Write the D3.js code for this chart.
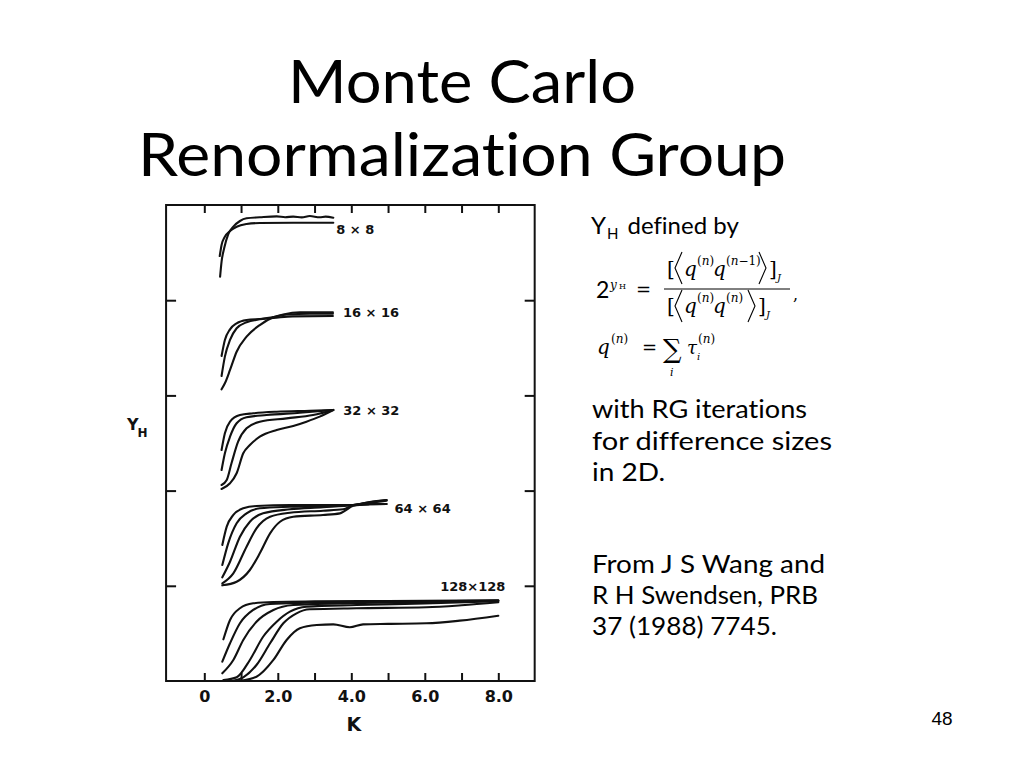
<!DOCTYPE html>
<html>
<head>
<meta charset="utf-8">
<script src="https://cdn.jsdelivr.net/npm/d3@7/dist/d3.min.js"></script>
<style>
  html, body { margin: 0; padding: 0; background: #fff; }
  svg { display: block; }
  text { font-variant-ligatures: none; font-feature-settings: "liga" 0; }
</style>
</head>
<body>
<svg id="chart" width="1024" height="768"></svg>
<script>
// ---------------- DATA ----------------
// panel labels (bottom -> top)
const sizeLabels = ["128×128", "64 × 64", "32 × 32", "16 × 16", "8 × 8"];
// x-axis ticks
const kTicks = [0, 1, 2, 3, 4, 5, 6, 7, 8];
const kTickLabels = ["0", "", "2.0", "", "4.0", "", "6.0", "", "8.0"];
// y panel boundary ticks (unlabelled)
const yTicks = [1, 2, 3, 4];

// curves: [K, Y_H within its panel]
const c8_1 = [[0.42,0.464],[0.47,0.58],[0.56,0.667],[0.70,0.727],[0.88,0.772],[1.15,0.800],[1.51,0.811],[2.42,0.814],[3.51,0.814]];
const c8_2 = [[0.43,0.247],[0.47,0.405],[0.54,0.545],[0.65,0.692],[0.79,0.772],[0.97,0.832],[1.15,0.860],[1.51,0.871],[1.97,0.881],[2.2,0.872],[2.42,0.878],[2.65,0.870],[2.87,0.884],[3.14,0.871],[3.3,0.878],[3.51,0.867]];

const c16_1 = [[0.47,0.414],[0.56,0.582],[0.70,0.694],[0.88,0.757],[1.15,0.792],[1.51,0.803],[1.88,0.813],[2.4,0.830],[3.5,0.834]];
const c16_2 = [[0.47,0.204],[0.56,0.407],[0.70,0.582],[0.88,0.705],[1.15,0.768],[1.51,0.799],[1.88,0.822],[2.24,0.850],[2.87,0.857],[3.5,0.857]];
const c16_3 = [[0.47,0.064],[0.56,0.127],[0.70,0.267],[0.88,0.459],[1.15,0.617],[1.51,0.739],[1.88,0.820],[2.15,0.850],[2.60,0.873],[3.5,0.873]];

const c32_1 = [[0.47,0.426],[0.56,0.602],[0.70,0.724],[0.97,0.794],[1.33,0.812],[1.97,0.829],[2.87,0.839],[3.51,0.847]];
const c32_2 = [[0.47,0.216],[0.56,0.392],[0.70,0.566],[0.88,0.707],[1.15,0.770],[1.69,0.794],[2.60,0.818],[3.51,0.847]];
const c32_3 = [[0.47,0.059],[0.61,0.111],[0.74,0.287],[0.92,0.514],[1.15,0.654],[1.51,0.724],[2.24,0.759],[2.96,0.794],[3.51,0.847]];
const c32_4 = [[0.47,0.017],[0.70,0.077],[0.88,0.182],[1.06,0.392],[1.24,0.479],[1.51,0.566],[1.97,0.637],[2.42,0.679],[2.78,0.724],[3.14,0.777],[3.51,0.847]];

const c64_1 = [[0.49,0.429],[0.61,0.621],[0.79,0.744],[1.06,0.814],[1.42,0.838],[2.33,0.849],[4.05,0.849],[4.5,0.880],[4.96,0.901]];
const c64_2 = [[0.49,0.218],[0.65,0.446],[0.88,0.657],[1.15,0.761],[1.51,0.814],[2.33,0.831],[3.3,0.840],[4.05,0.849],[4.5,0.858],[4.96,0.859]];
const c64_3 = [[0.49,0.089],[0.70,0.253],[0.97,0.516],[1.24,0.673],[1.60,0.761],[2.33,0.804],[3.23,0.825],[4.05,0.849],[4.5,0.878],[4.96,0.901]];
const c64_4 = [[0.49,0.026],[0.79,0.131],[1.15,0.411],[1.42,0.604],[1.79,0.726],[2.33,0.768],[3.23,0.789],[3.78,0.804],[4.05,0.845],[4.5,0.856],[4.96,0.859]];
const c64_5 = [[0.49,0.005],[0.88,0.043],[1.24,0.166],[1.51,0.341],[1.79,0.551],[2.06,0.673],[2.42,0.726],[3.23,0.744],[3.69,0.761],[4.05,0.840],[4.5,0.870],[4.96,0.895]];

const c128_1 = [[0.52,0.438],[0.70,0.641],[0.97,0.764],[1.33,0.816],[1.88,0.830],[3.0,0.836],[5.0,0.840],[8.0,0.848]];
const c128_2 = [[0.49,0.203],[0.70,0.396],[0.97,0.606],[1.33,0.746],[1.79,0.809],[2.78,0.822],[5.0,0.832],[8.0,0.845]];
const c128_3 = [[0.49,0.081],[0.79,0.221],[1.06,0.431],[1.42,0.623],[1.88,0.746],[2.42,0.798],[3.69,0.816],[6.0,0.830],[8.0,0.842]];
const c128_4 = [[0.52,0.01],[0.88,0.039],[1.24,0.221],[1.60,0.465],[1.97,0.623],[2.33,0.728],[2.78,0.780],[4.14,0.798],[6.0,0.815],[8.0,0.838]];
const c128_5 = [[0.79,0.003],[1.06,0.039],[1.42,0.168],[1.79,0.396],[2.15,0.606],[2.51,0.711],[2.87,0.753],[4.14,0.764],[6.04,0.774],[7.0,0.795],[8.0,0.827]];
const c128_6 = [[0.97,0.003],[1.42,0.045],[1.88,0.221],[2.24,0.431],[2.60,0.554],[3.06,0.588],[3.51,0.595],[3.96,0.564],[4.32,0.595],[5.0,0.600],[6.04,0.606],[6.95,0.634],[8.0,0.686]];

// panel groups, bottom (0) to top (4)
const panels = [
  [c128_1, c128_2, c128_3, c128_4, c128_5, c128_6],
  [c64_1, c64_2, c64_3, c64_4, c64_5],
  [c32_1, c32_2, c32_3, c32_4],
  [c16_1, c16_2, c16_3],
  [c8_1, c8_2]
];

// text
const titleLines = ["Monte Carlo", "Renormalization Group"];
const noteLines1 = ["with RG iterations", "for difference sizes", "in 2D."];
const noteLines2 = ["From J S Wang and", "R H Swendsen, PRB", "37 (1988) 7745."];
const pageNumber = "48";

// ---------------- DRAW ----------------
const svg = d3.select("#chart");
svg.append("rect").attr("width", 1024).attr("height", 768).attr("fill", "#fff");

const x = d3.scaleLinear().domain([0, 8]).range([204.3, 498.3]);
const y = d3.scaleLinear().domain([0, 5]).range([681, 205]);
const xMin = -1.04, xMax = 8.99;

const plot = svg.append("g");

// axes (ticks inward)
const axFont = "'DejaVu Sans', sans-serif";
const bottomAxis = d3.axisBottom(x).tickValues(kTicks).tickSize(-8).tickPadding(10)
  .tickFormat((d, i) => kTickLabels[i]);
const gb = plot.append("g").attr("transform", `translate(0,${y(0)})`).call(bottomAxis);
const topAxis = d3.axisTop(x).tickValues(kTicks).tickSize(-8).tickFormat("");
const gt = plot.append("g").attr("transform", `translate(0,${y(5)})`).call(topAxis);
const leftAxis = d3.axisLeft(y).tickValues(yTicks).tickSize(-10).tickFormat("");
const gl = plot.append("g").attr("transform", `translate(${x(xMin)},0)`).call(leftAxis);
const rightAxis = d3.axisRight(y).tickValues(yTicks).tickSize(-10).tickFormat("");
const gr = plot.append("g").attr("transform", `translate(${x(xMax)},0)`).call(rightAxis);
[gb, gt, gl, gr].forEach(g => {
  g.select(".domain").remove();
  g.selectAll(".tick line").attr("stroke", "#111").attr("stroke-width", 2);
});
gb.selectAll(".tick text")
  .attr("font-family", axFont).attr("font-weight", "bold")
  .attr("font-size", 16).attr("fill", "#111");

// frame
plot.append("rect")
  .attr("x", x(xMin)).attr("y", y(5))
  .attr("width", x(xMax) - x(xMin)).attr("height", y(0) - y(5))
  .attr("fill", "none").attr("stroke", "#111").attr("stroke-width", 2);

// curves
const line = d3.line()
  .x(d => x(d[0]))
  .curve(d3.curveMonotoneX);
panels.forEach((curves, p) => {
  line.y(d => y(p + d[1]));
  curves.forEach(c => {
    plot.append("path")
      .attr("d", line(c))
      .attr("fill", "none")
      .attr("stroke", "#111")
      .attr("stroke-width", 2.1)
      .attr("stroke-linejoin", "round")
      .attr("stroke-linecap", "round");
  });
});

// size labels
panels.forEach((curves, p) => {
  const lastK = d3.max(curves, c => c[c.length - 1][0]);
  const t = plot.append("text")
    .attr("font-family", axFont).attr("font-weight", "bold")
    .attr("font-size", 13).attr("fill", "#111")
    .text(sizeLabels[p]);
  if (p === 0) {
    t.attr("x", x(lastK) + 7).attr("y", y(p + 1) + 5).attr("text-anchor", "end");
  } else if (p === 4) {
    t.attr("x", x(lastK) + 3).attr("y", y(p + 0.75) + 5);
  } else if (p === 1) {
    t.attr("x", x(lastK) + 8).attr("y", y(p + 0.82) + 5);
  } else {
    const lastV = d3.max(curves, c => c[c.length - 1][1]);
    t.attr("x", x(lastK) + 10).attr("y", y(p + lastV) + 5);
  }
});

// axis titles
plot.append("text")
  .attr("x", x(4.07)).attr("y", 731)
  .attr("text-anchor", "middle")
  .attr("font-family", axFont).attr("font-weight", "bold")
  .attr("font-size", 19).attr("fill", "#111").text("K");
const yl = plot.append("text")
  .attr("x", 127).attr("y", 430)
  .attr("font-family", axFont).attr("font-weight", "bold")
  .attr("font-size", 16).attr("fill", "#111");
yl.append("tspan").text("Y");
yl.append("tspan").attr("font-size", 12).attr("dy", 7).attr("dx", -1).text("H");

// ---------------- slide text ----------------
const slideFont = "Lato, 'Open Sans', sans-serif";
svg.append("text").attr("x", 462).attr("y", 103).attr("text-anchor", "middle")
  .attr("font-family", slideFont).attr("font-size", 60).attr("fill", "#000")
  .attr("textLength", 348).attr("lengthAdjust", "spacingAndGlyphs")
  .text(titleLines[0]);
svg.append("text").attr("x", 462).attr("y", 176).attr("text-anchor", "middle")
  .attr("font-family", slideFont).attr("font-size", 60).attr("fill", "#000")
  .attr("textLength", 648).attr("lengthAdjust", "spacingAndGlyphs")
  .text(titleLines[1]);

// Y_H defined by
const yd = svg.append("text").attr("x", 591).attr("y", 234)
  .attr("font-family", slideFont).attr("font-size", 24).attr("fill", "#000");
yd.append("tspan").text("Y");
yd.append("tspan").attr("font-size", 15).attr("dy", 5).attr("dx", 1).text("H");
yd.append("tspan").attr("dy", -5).attr("dx", 9).text("defined by");

// formula
const mf = "'DejaVu Serif', 'Liberation Serif', serif";
const f = svg.append("g").attr("font-family", mf).attr("fill", "#000");
function t(xp, yp, s, size, italic) {
  return f.append("text").attr("x", xp).attr("y", yp).attr("font-size", size)
    .attr("font-style", italic ? "italic" : "normal").text(s);
}
// superscript like (n) or (n-1): upright parens, italic n
function sup(xp, yp, tail) {
  const e = f.append("text").attr("x", xp).attr("y", yp).attr("font-size", 12);
  e.append("tspan").text("(");
  e.append("tspan").attr("font-style", "italic").text("n");
  e.append("tspan").text(tail);
  return e;
}
// thin angle bracket
function angle(xp, top, bot, open) {
  const w = 7, mid = (top + bot) / 2;
  const pts = open ? [[xp + w, top], [xp, mid], [xp + w, bot]] : [[xp, top], [xp + w, mid], [xp, bot]];
  f.append("path").attr("d", d3.line()(pts)).attr("fill", "none")
    .attr("stroke", "#000").attr("stroke-width", 1.1);
}
f.append("text").attr("x", 596).attr("y", 298).attr("font-family", slideFont)
  .attr("font-size", 23).text("2");
t(610, 289, "y", 12, true);
t(619, 289, "H", 8, false);
t(636, 296, "=", 18, false);
// numerator
t(667, 276, "[", 20, false);
angle(675, 252, 284, true);
t(684, 276, "q", 20, true);
sup(697, 265, ")");
t(713, 276, "q", 20, true);
sup(726, 265, "−1)");
angle(759, 252, 284, false);
t(769, 276, "]", 20, false);
t(777, 281, "J", 10, true);
// fraction bar
f.append("line").attr("x1", 664).attr("x2", 790).attr("y1", 289).attr("y2", 289)
  .attr("stroke", "#000").attr("stroke-width", 1);
// denominator
t(667, 313, "[", 20, false);
angle(675, 290, 322, true);
t(684, 313, "q", 20, true);
sup(697, 302, ")");
t(713, 313, "q", 20, true);
sup(726, 302, ")");
angle(748, 290, 322, false);
t(758, 313, "]", 20, false);
t(766, 318, "J", 10, true);
t(793, 300, ",", 16, false);
// q^(n) = sum_i tau_i^(n)
t(597, 354, "q", 20, true);
sup(611, 343, ")");
t(642, 354, "=", 18, false);
t(663, 358, "∑", 26, false);
t(670, 376, "i", 11, true);
t(687, 354, "τ", 18, true);
t(697, 360, "i", 10, true);
sup(698, 343, ")");

// notes
const noteW1 = [215, 240, 73];
const noteW2 = [233, 226, 185];
noteLines1.forEach((s, i) => {
  svg.append("text").attr("x", 592).attr("y", 418 + i * 31.5)
    .attr("font-family", slideFont).attr("font-size", 25).attr("fill", "#000")
    .attr("textLength", noteW1[i]).attr("lengthAdjust", "spacingAndGlyphs").text(s);
});
noteLines2.forEach((s, i) => {
  svg.append("text").attr("x", 592).attr("y", 573 + i * 31)
    .attr("font-family", slideFont).attr("font-size", 25).attr("fill", "#000")
    .attr("textLength", noteW2[i]).attr("lengthAdjust", "spacingAndGlyphs").text(s);
});
svg.append("text").attr("x", 942).attr("y", 725).attr("text-anchor", "middle")
  .attr("font-family", "'Liberation Sans', Arial, sans-serif")
  .attr("font-size", 19).attr("fill", "#000").text(pageNumber);
</script>
</body>
</html>
